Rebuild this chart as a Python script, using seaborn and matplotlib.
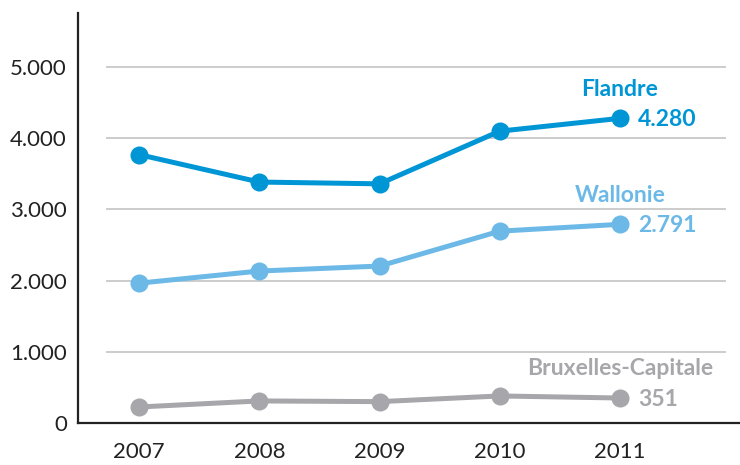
import pandas as pd
from matplotlib import pyplot as plt
import seaborn as sns

# données
annees = [2007, 2008, 2009, 2010, 2011]
regions = ['Flandre', 'Wallonie', 'Bruxelles-Capitale']
flandre = [3770, 3385, 3360, 4100, 4280]
wallonie = [1965, 2135, 2205, 2695, 2791]
bruxelles = [225, 310, 300, 380, 351]
couleurs = ['#0096d6', '#6cb9e7', '#a7a7ab']

df = pd.DataFrame({
    'Annee': annees * 3,
    'Valeur': flandre + wallonie + bruxelles,
    'Region': [r for r in regions for _ in annees],
})

sns.set_style('white')
plt.rcParams['font.family'] = ['Lato', 'DejaVu Sans']

fig = plt.figure(figsize=(7.4, 4.65), dpi=100)
ax = fig.add_axes([78 / 740, 42 / 465, 662 / 740, 410 / 465])

# lignes de grille
for y in [1000, 2000, 3000, 4000, 5000]:
    ax.hlines(y, 2006.72, 2011.88, color='#c4c4c4', lw=1.2, zorder=0)

sns.lineplot(data=df, x='Annee', y='Valeur', hue='Region', palette=couleurs,
             marker='o', markersize=13, markeredgewidth=0, linewidth=3.6,
             legend=False, ax=ax, zorder=3)

ax.set_xlim(2006.49, 2012.0)
ax.set_ylim(0, 5760)
ax.set_xticks(annees)
ax.set_xticklabels([str(a) for a in annees])
ax.set_yticks([0, 1000, 2000, 3000, 4000, 5000])
ax.set_yticklabels(['0', '1.000', '2.000', '3.000', '4.000', '5.000'])
ax.set_xlabel('')
ax.set_ylabel('')

for s in ['top', 'right']:
    ax.spines[s].set_visible(False)
for s in ['left', 'bottom']:
    ax.spines[s].set_color('#222222')
    ax.spines[s].set_linewidth(1.6)

ax.tick_params(axis='y', direction='in', length=11, width=1.6, color='#222222',
               pad=8, labelsize=16, labelcolor='#222222')
ax.tick_params(axis='x', direction='in', length=8, width=1.4, color='#222222',
               pad=14, labelsize=16, labelcolor='#222222')

# étiquettes des séries
series = [flandre, wallonie, bruxelles]
for nom, vals, c in zip(regions, series, couleurs):
    x, y = annees[-1], vals[-1]
    ax.annotate(nom, (x, y), xytext=(0, 21), textcoords='offset points',
                ha='center', va='center', fontsize=16.5, fontweight='bold', color=c)
    ax.annotate(f'{y:,}'.replace(',', '.'), (x, y), xytext=(13, -1), textcoords='offset points',
                ha='left', va='center', fontsize=16.5, fontweight='bold', color=c)

fig.savefig('out.png', dpi=100)
